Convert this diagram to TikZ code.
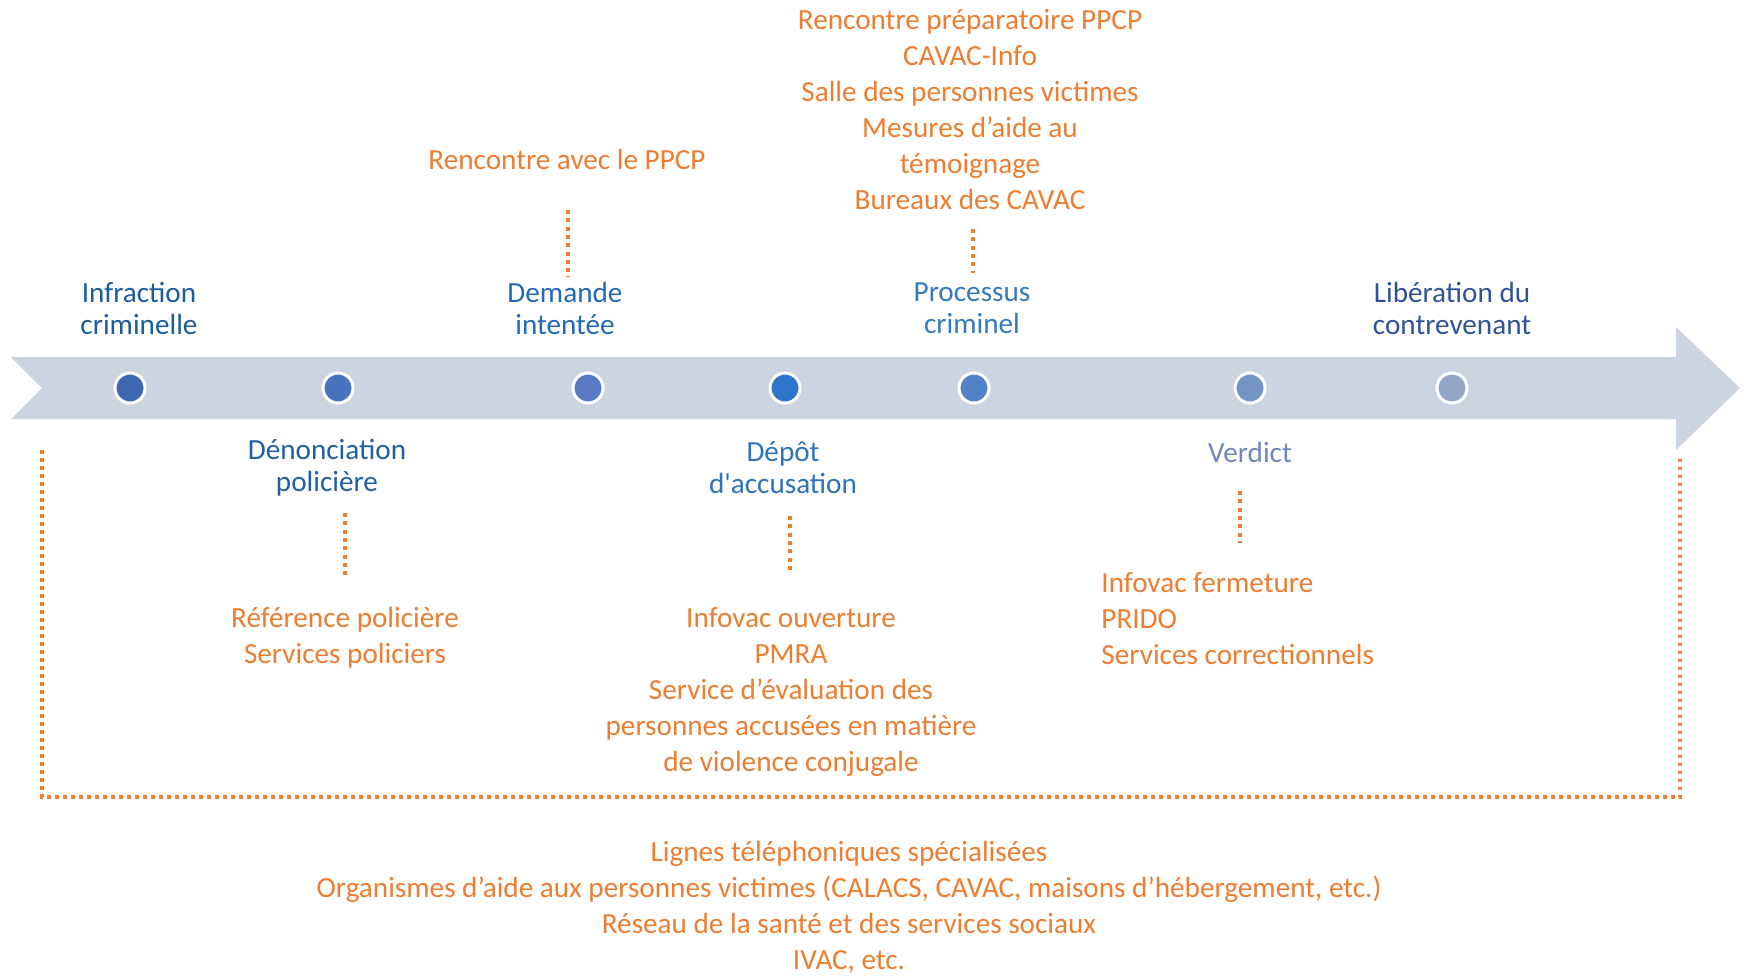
\documentclass[tikz,border=0pt]{standalone}
\usepackage{fontspec}
\setmainfont{Carlito}
\definecolor{arrowcol}{HTML}{CDD4E1}
\definecolor{orng}{HTML}{ED7D31}
\definecolor{cA}{HTML}{3F67B0}
\definecolor{cB}{HTML}{4672C0}
\definecolor{cC}{HTML}{5A7BC4}
\definecolor{cD}{HTML}{2E75CB}
\definecolor{cE}{HTML}{5283C8}
\definecolor{cF}{HTML}{7594C6}
\definecolor{cG}{HTML}{94A6C4}
\definecolor{tA}{HTML}{1B5C9E}
\definecolor{tB}{HTML}{1F5FA8}
\definecolor{tC}{HTML}{2468B8}
\definecolor{tD}{HTML}{2E72B8}
\definecolor{tE}{HTML}{3479BC}
\definecolor{tF}{HTML}{7086BE}
\definecolor{tG}{HTML}{2E539A}
\tikzset{
  dotcirc/.style={circle, draw=white, line width=1.5pt, minimum size=15pt, inner sep=0pt},
  title/.style={align=center, inner sep=0pt, font=\fontsize{14.6}{16}\selectfont},
  olist/.style={align=center, inner sep=0pt, text=orng, font=\fontsize{14.6}{18}\selectfont},
  olistl/.style={align=left, inner sep=0pt, text=orng, font=\fontsize{14.6}{18}\selectfont},
  shortdots/.style={draw=orng, line width=2pt, dash pattern=on 2pt off 2.15pt},
  longdots/.style={draw=orng, line width=1.75pt, dash pattern=on 1.75pt off 2.25pt}
}
\begin{document}
\begin{tikzpicture}[x=0.5pt, y=-0.5pt]
\useasboundingbox (0,0) rectangle (1749,976);
% arrow
\fill[arrowcol] (11,357) -- (1676,357) -- (1676,327) -- (1740,388) -- (1676,450) -- (1676,419) -- (11,419) -- (42,388) -- cycle;
% circles
\node[dotcirc, fill=cA] (c1) at (130,388) {};
\node[dotcirc, fill=cB] (c2) at (338,388) {};
\node[dotcirc, fill=cC] (c3) at (588,388) {};
\node[dotcirc, fill=cD] (c4) at (785,388) {};
\node[dotcirc, fill=cE] (c5) at (974,388) {};
\node[dotcirc, fill=cF] (c6) at (1250,388) {};
\node[dotcirc, fill=cG] (c7) at (1452,388) {};
% titles
\node[title, text=tA] (t1) at (139,308) {Infraction\\criminelle};
\node[title, text=tB] (t2) at (327,468) {Dénonciation\\policière};
\node[title, text=tC] (t3) at (565,308) {Demande\\intentée};
\node[title, text=tD] (t4) at (783,468) {Dépôt\\d\textquotesingle accusation};
\node[title, text=tE] (t5) at (972,308) {Processus\\criminel};
\node[title, text=tF] (t6) at (1250,452) {Verdict};
\node[title, text=tG] (t7) at (1452,308) {Libération du\\contrevenant};
% orange lists
\node[olist] (l3) at (567,159) {Rencontre avec le PPCP};
\node[olist] (l5) at (970,109.5) {Rencontre préparatoire PPCP\\CAVAC-Info\\Salle des personnes victimes\\Mesures d’aide au\\témoignage\\Bureaux des CAVAC};
\node[olist] (l2) at (345,637.5) {Référence policière\\Services policiers};
\node[olist] (l4) at (791,692) {Infovac ouverture\\PMRA\\Service d’évaluation des\\personnes accusées en matière\\de violence conjugale};
\node[olistl, anchor=west] (l6) at (1101,619) {Infovac fermeture\\PRIDO\\Services correctionnels};
\node[olist] (lb) at (849,907.5) {Lignes téléphoniques spécialisées\\Organismes d’aide aux personnes victimes (CALACS, CAVAC, maisons d’hébergement, etc.)\\Réseau de la santé et des services sociaux\\IVAC, etc.};
% short dotted connectors
\coordinate (d3a) at (568,210); \coordinate (d3b) at (568,277);
\coordinate (d5a) at (973,229); \coordinate (d5b) at (973,273);
\coordinate (d2a) at (345,513); \coordinate (d2b) at (345,578);
\coordinate (d4a) at (790,516); \coordinate (d4b) at (790,574);
\coordinate (d6a) at (1240,491); \coordinate (d6b) at (1240,543);
\draw[shortdots] (d3a) -- (d3b);
\draw[shortdots] (d5a) -- (d5b);
\draw[shortdots] (d2a) -- (d2b);
\draw[shortdots] (d4a) -- (d4b);
\draw[shortdots] (d6a) -- (d6b);
% big bracket
\coordinate (bl) at (42,450);
\coordinate (br) at (1680,455);
\draw[longdots] (bl) -- (42,797) -- (1680,797) -- (br);
\end{tikzpicture}
\end{document}
